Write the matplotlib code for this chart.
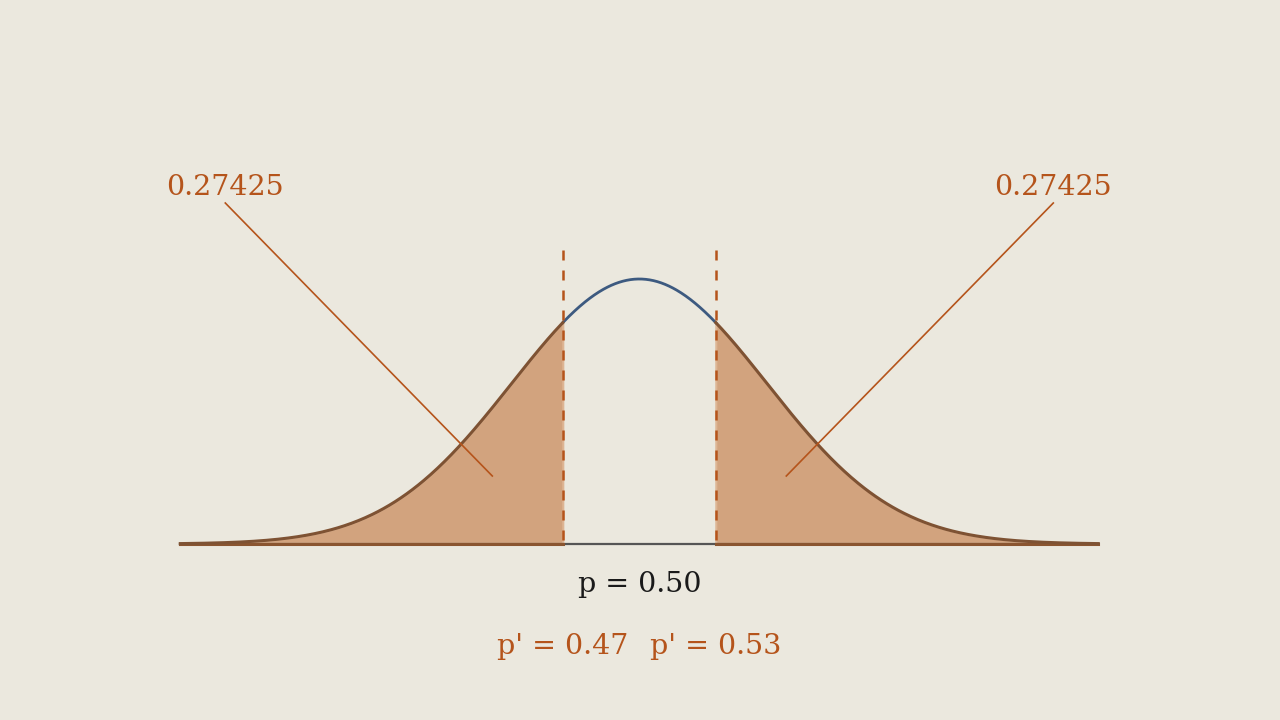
import numpy as np
import matplotlib.pyplot as plt

# values
mu = 0.50
sigma = 0.05
p_low = 0.47
p_high = 0.53
tail_area = 0.27425
p_min, p_max = 0.32, 0.68

bg = '#EBE8DE'
fill_col = '#D2A37E'
tail_col = '#7E5233'
blue = '#3D5A80'
orange = '#B5541B'


def pdf(x):
    return np.exp(-0.5 * ((x - mu) / sigma) ** 2) / (sigma * np.sqrt(2 * np.pi))


fig = plt.figure(figsize=(12.8, 7.2), dpi=100, facecolor=bg)
ax = fig.add_axes([0, 0, 1, 1])
ax.set_facecolor(bg)
ax.axis('off')

# pixel scale: 2550 px per unit of p, peak 265 px tall
px_per_p = 2550.0
px_per_y = 265.0 / pdf(mu)
ax.set_xlim(mu - 639.3 / px_per_p, mu + 640.7 / px_per_p)
ax.set_ylim(-176 / px_per_y, 544 / px_per_y)

xs = np.linspace(p_min, p_max, 800)
left = xs[xs <= p_low]
left = np.append(left, p_low)
right = xs[xs >= p_high]
right = np.insert(right, 0, p_high)
mid = np.linspace(p_low, p_high, 200)

ax.fill_between(left, 0, pdf(left), facecolor=fill_col, edgecolor='#DDB594', lw=1.5, zorder=1)
ax.fill_between(right, 0, pdf(right), facecolor=fill_col, edgecolor='#DDB594', lw=1.5, zorder=1)

# baseline
ax.plot([p_min, p_max], [0, 0], color='#555555', lw=1.6, zorder=2)
ax.plot([p_min, p_low], [0, 0], color='#8A5530', lw=2.2, zorder=3)
ax.plot([p_high, p_max], [0, 0], color='#8A5530', lw=2.2, zorder=3)

# curve
ax.plot(mid, pdf(mid), color=blue, lw=2.0, zorder=4)
ax.plot(left, pdf(left), color=tail_col, lw=2.2, zorder=4)
ax.plot(right, pdf(right), color=tail_col, lw=2.2, zorder=4)

# cutoff lines
top = 294 / px_per_y
for p in (p_low, p_high):
    ax.plot([p, p], [top, 0], color=orange, lw=1.8, ls=(0, (4, 4)), zorder=5)

# tail labels with leader lines
lab = '{:.5f}'.format(tail_area)
for side in (-1, 1):
    tx = mu + side * 414 / px_per_p
    ax.plot([tx, mu + side * 147 / px_per_p], [341 / px_per_y, 68 / px_per_y],
            color=orange, lw=1.2, zorder=6)
    ax.text(tx, 357 / px_per_y, lab, ha='center', va='center',
            fontsize=20.5, family='DejaVu Serif', color=orange, zorder=6)

# axis labels
ax.text(mu, -40 / px_per_y, 'p = {:.2f}'.format(mu), ha='center', va='center',
        fontsize=20.5, family='DejaVu Serif', color='#1a1a1a')
ax.text(p_low, -103 / px_per_y, "p' = {:.2f}".format(p_low), ha='center', va='center',
        fontsize=20.5, family='DejaVu Serif', color=orange)
ax.text(p_high, -103 / px_per_y, "p' = {:.2f}".format(p_high), ha='center', va='center',
        fontsize=20.5, family='DejaVu Serif', color=orange)

fig.savefig('out.png', dpi=100, facecolor=bg)
